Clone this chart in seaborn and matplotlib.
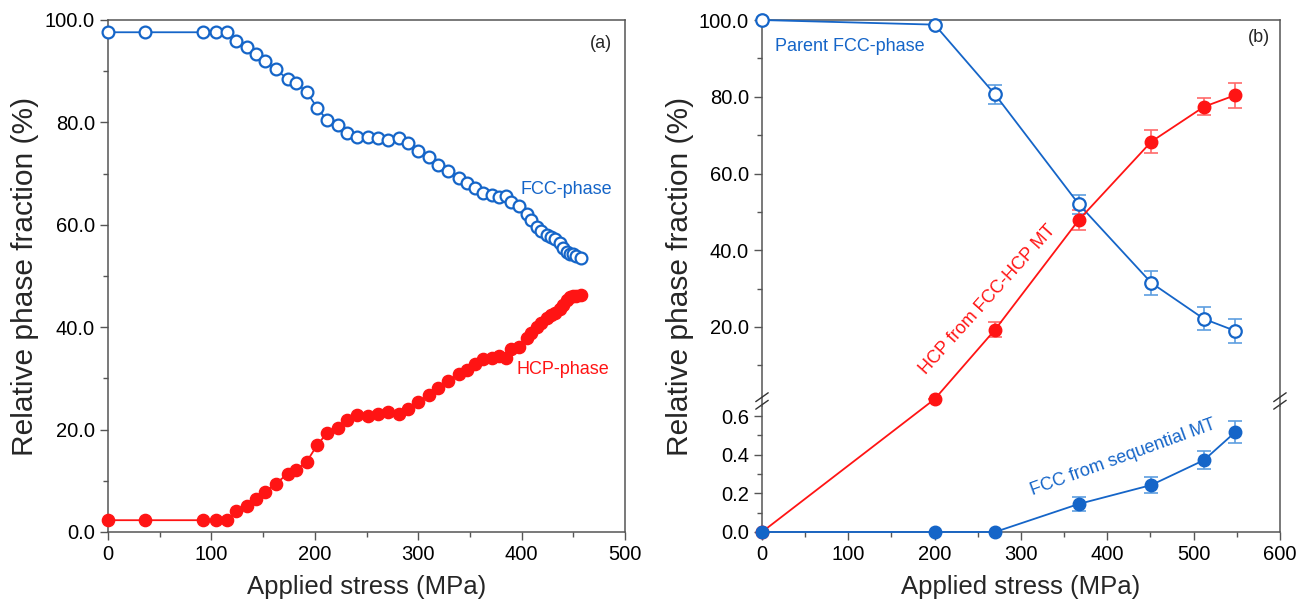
import matplotlib
matplotlib.use("Agg")
import matplotlib.pyplot as plt
import seaborn as sns
from matplotlib.ticker import MultipleLocator, FormatStrFormatter

# ---- panel (a) data ----
stress_a = [0, 36, 92, 104, 115, 124, 134, 143, 152, 162, 174, 182, 192, 202, 212,
            222, 231, 241, 251, 261, 271, 281, 290, 300, 310, 319, 329, 339, 347, 355,
            363, 371, 378, 385, 390, 397, 405, 409, 415, 419, 424, 428, 432, 437, 440,
            444, 447, 450, 453, 457]
fcc_a = [97.6, 97.6, 97.6, 97.6, 97.6, 95.8, 94.8, 93.4, 91.9, 90.4, 88.4, 87.6, 86.0,
         82.9, 80.4, 79.4, 78.0, 77.1, 77.2, 77.0, 76.5, 77.0, 75.9, 74.4, 73.2, 71.7,
         70.5, 69.1, 68.2, 67.1, 66.2, 65.8, 65.5, 65.7, 64.5, 63.7, 62.1, 60.9, 59.5,
         58.7, 58.0, 57.6, 57.2, 56.5, 55.4, 54.6, 54.3, 54.2, 53.9, 53.6]
hcp_a = [2.3, 2.3, 2.3, 2.3, 2.3, 4.0, 5.1, 6.4, 7.9, 9.4, 11.4, 12.1, 13.7, 16.9, 19.4,
         20.4, 21.9, 22.8, 22.7, 23.0, 23.4, 23.0, 24.0, 25.3, 26.8, 28.2, 29.5, 30.8,
         31.6, 32.9, 33.7, 33.9, 34.4, 34.0, 35.7, 36.2, 37.8, 38.8, 40.0, 40.9, 41.7,
         42.4, 42.7, 43.5, 44.3, 45.3, 45.8, 46.0, 46.1, 46.3]

# ---- panel (b) data ----
stress_b = [0, 200, 270, 367, 451, 512, 548]
parent_fcc = [100.0, 98.8, 80.6, 52.0, 31.5, 22.1, 19.0]
parent_fcc_err = [0, 0, 2.4, 2.5, 3.2, 3.0, 3.2]
hcp_b = [0.0, 1.2, 19.3, 47.9, 68.3, 77.4, 80.4]
hcp_b_err = [0, 0, 2.0, 2.6, 3.0, 2.2, 3.2]
fcc_seq = [0.0, 0.0, 0.0, 0.145, 0.243, 0.372, 0.516]
fcc_seq_err = [0, 0, 0, 0.036, 0.04, 0.048, 0.058]

BLUE = "#1565c8"
RED = "#ff1414"
BLUE_ERR = "#5e9ee0"
RED_ERR = "#ff6a6a"
SPINE = "#555555"

sns.set_style("ticks")
plt.rcParams["font.family"] = ["Liberation Sans", "DejaVu Sans"]
plt.rcParams["axes.edgecolor"] = SPINE
plt.rcParams["axes.linewidth"] = 1.1
plt.rcParams["xtick.color"] = SPINE
plt.rcParams["ytick.color"] = SPINE
plt.rcParams["xtick.labelcolor"] = "black"
plt.rcParams["ytick.labelcolor"] = "black"

TICK_FS = 14.5
XLABEL_FS = 18.5
YLABEL_FS = 21.5
ANN_FS = 13

fig = plt.figure(figsize=(13.05, 6.07), dpi=100)


def style_ticks(ax):
    ax.tick_params(which="major", direction="out", length=6, width=1.0, labelsize=TICK_FS)
    ax.tick_params(which="minor", direction="out", length=3.5, width=1.0)


# ---------------- panel (a) ----------------
ax_a = fig.add_axes([0.0828, 0.1236, 0.3962, 0.8435])
sns.lineplot(x=stress_a, y=fcc_a, ax=ax_a, color=BLUE, linewidth=1.3, marker="o",
             markersize=8.5, markerfacecolor="white", markeredgecolor=BLUE,
             markeredgewidth=1.6, sort=False, estimator=None, clip_on=False, zorder=3)
sns.lineplot(x=stress_a, y=hcp_a, ax=ax_a, color=RED, linewidth=1.3, marker="o",
             markersize=8.8, markerfacecolor=RED, markeredgecolor=RED,
             markeredgewidth=1.0, sort=False, estimator=None, clip_on=False, zorder=3)
ax_a.set_xlim(0, 500)
ax_a.set_ylim(0, 100)
ax_a.xaxis.set_major_locator(MultipleLocator(100))
ax_a.xaxis.set_minor_locator(MultipleLocator(50))
ax_a.yaxis.set_major_locator(MultipleLocator(20))
ax_a.yaxis.set_minor_locator(MultipleLocator(10))
ax_a.yaxis.set_major_formatter(FormatStrFormatter("%.1f"))
style_ticks(ax_a)
ax_a.set_xlabel("Applied stress (MPa)", fontsize=XLABEL_FS, labelpad=8)
ax_a.set_ylabel("Relative phase fraction (%)", fontsize=YLABEL_FS, labelpad=4)
ax_a.text(443, 66.8, "FCC-phase", color=BLUE, fontsize=ANN_FS, ha="center", va="center")
ax_a.text(440, 31.8, "HCP-phase", color=RED, fontsize=ANN_FS, ha="center", va="center")
ax_a.text(0.975, 0.955, "(a)", transform=ax_a.transAxes, fontsize=ANN_FS,
          ha="right", va="center")

# ---------------- panel (b) : broken y axis ----------------
left_b, width_b = 0.5839, 0.3969
ax_top = fig.add_axes([left_b, 0.3311, width_b, 0.6359])
ax_bot = fig.add_axes([left_b, 0.1236, width_b, 0.2075])

for ax in (ax_top, ax_bot):
    ax.set_xlim(0, 600)
    ax.xaxis.set_major_locator(MultipleLocator(100))
    ax.xaxis.set_minor_locator(MultipleLocator(50))
    style_ticks(ax)
    ax.set_facecolor("none")
ax_top.set_ylim(-0.6, 100)
ax_bot.set_ylim(0, 0.652)
ax_top.spines["bottom"].set_visible(False)
ax_bot.spines["top"].set_visible(False)
ax_top.tick_params(axis="x", which="both", bottom=False, labelbottom=False)
ax_top.set_yticks([20, 40, 60, 80, 100])
ax_top.set_yticks([10, 30, 50, 70, 90], minor=True)
ax_top.yaxis.set_major_formatter(FormatStrFormatter("%.1f"))
ax_bot.set_yticks([0.0, 0.2, 0.4, 0.6])
ax_bot.set_yticks([0.1, 0.3, 0.5], minor=True)
ax_bot.yaxis.set_major_formatter(FormatStrFormatter("%.1f"))

# parent FCC (top)
ax_top.errorbar(stress_b, parent_fcc, yerr=parent_fcc_err, fmt="none", ecolor=BLUE_ERR,
                elinewidth=1.2, capsize=5, capthick=1.2, zorder=2)
sns.lineplot(x=stress_b, y=parent_fcc, ax=ax_top, color=BLUE, linewidth=1.3, marker="o",
             markersize=9, markerfacecolor="white", markeredgecolor=BLUE,
             markeredgewidth=1.6, sort=False, estimator=None, clip_on=False, zorder=3)

# HCP from FCC-HCP MT : first point lives on the lower axis, the rest on the upper one
ax_top.errorbar(stress_b[1:], hcp_b[1:], yerr=hcp_b_err[1:], fmt="none", ecolor=RED_ERR,
                elinewidth=1.2, capsize=5, capthick=1.2, zorder=2)
sns.lineplot(x=stress_b[1:], y=hcp_b[1:], ax=ax_top, color=RED, linewidth=1.3, marker="o",
             markersize=9, markerfacecolor=RED, markeredgecolor=RED,
             markeredgewidth=1.0, sort=False, estimator=None, zorder=3)

# connecting segment across the break, drawn straight in screen space
p0 = ax_bot.transData.transform((stress_b[0], hcp_b[0]))
p1 = ax_top.transData.transform((stress_b[1], hcp_b[1]))
p1_in_bot = ax_bot.transData.inverted().transform(p1)
p0_in_top = ax_top.transData.inverted().transform(p0)
ax_bot.plot([stress_b[0], p1_in_bot[0]], [hcp_b[0], p1_in_bot[1]], color=RED,
            linewidth=1.3, zorder=2)
ax_top.plot([p0_in_top[0], stress_b[1]], [p0_in_top[1], hcp_b[1]], color=RED,
            linewidth=1.3, zorder=2)
ax_bot.plot([stress_b[0]], [hcp_b[0]], "o", color=RED, markersize=9, clip_on=False, zorder=4)

# FCC from sequential MT (bottom)
ax_bot.errorbar(stress_b, fcc_seq, yerr=fcc_seq_err, fmt="none", ecolor=BLUE_ERR,
                elinewidth=1.2, capsize=5, capthick=1.2, zorder=2)
sns.lineplot(x=stress_b, y=fcc_seq, ax=ax_bot, color=BLUE, linewidth=1.3, marker="o",
             markersize=9, markerfacecolor=BLUE, markeredgecolor=BLUE,
             markeredgewidth=1.0, sort=False, estimator=None, clip_on=False, zorder=5)

# break marks on both spines
kw = dict(transform=ax_bot.transAxes, color="#333333", linewidth=1.0, clip_on=False)
dx, dy = 0.012, 0.035
for xs in (0.0, 1.0):
    for yc in (1.07, 1.01):
        ax_bot.plot([xs - dx, xs + dx], [yc - dy, yc + dy], **kw)

ax_bot.set_xlabel("Applied stress (MPa)", fontsize=XLABEL_FS, labelpad=8)
fig.text(0.521, 0.545, "Relative phase fraction (%)", fontsize=YLABEL_FS, rotation=90,
         ha="center", va="center")

ax_top.text(15, 93.0, "Parent FCC-phase", color=BLUE, fontsize=ANN_FS, ha="left",
            va="center")
ax_top.text(262, 27.0, "HCP from FCC-HCP MT", color=RED, fontsize=ANN_FS, ha="center",
            va="center", rotation=48, rotation_mode="anchor")
ax_bot.text(418, 0.388, "FCC from sequential MT", color=BLUE, fontsize=ANN_FS,
            ha="center", va="center", rotation=20, rotation_mode="anchor")
ax_top.text(0.98, 0.955, "(b)", transform=ax_top.transAxes, fontsize=ANN_FS,
            ha="right", va="center")

fig.savefig("out.png", dpi=100)
